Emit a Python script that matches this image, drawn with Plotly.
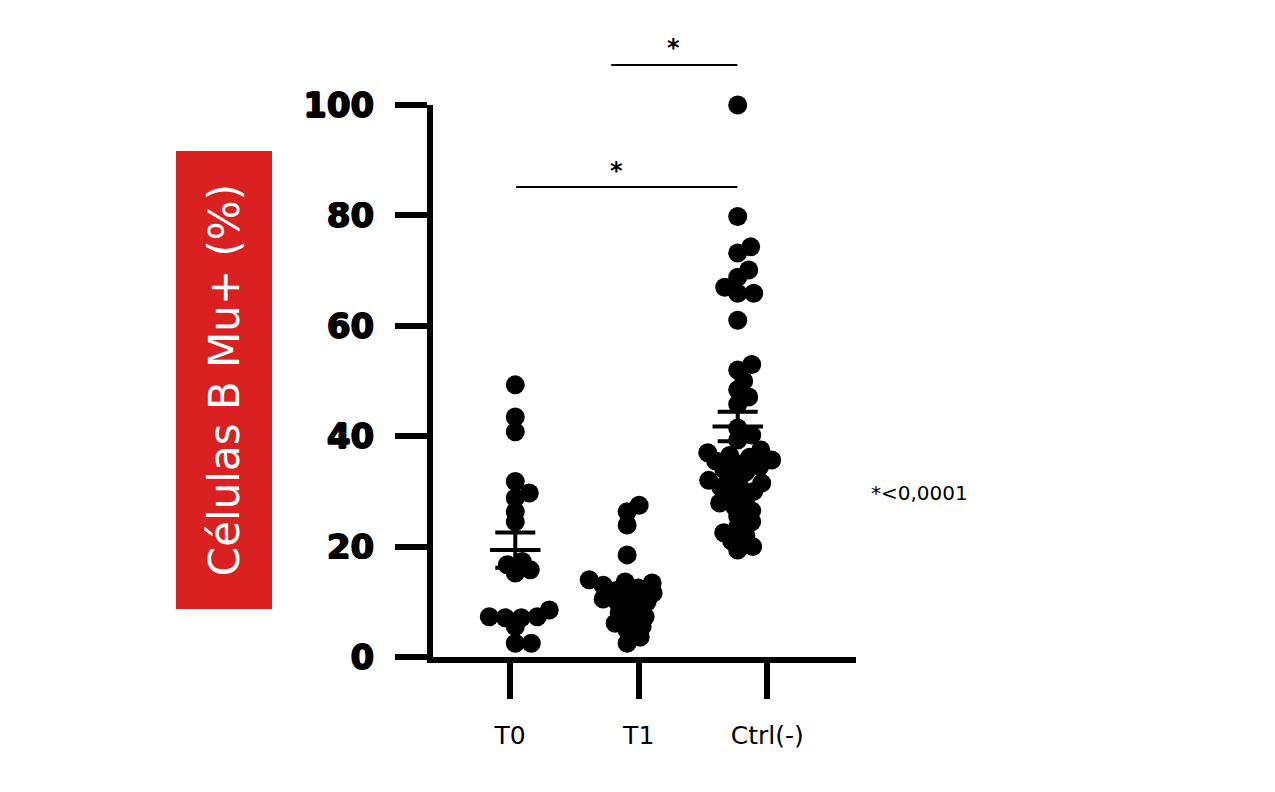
import numpy as np
import plotly.graph_objects as go

# values (% of Mu+ B cells)
groups = ["T0", "T1", "Ctrl(-)"]
t0_vals = [49.3, 43.5, 40.8, 31.8, 29.7, 28.8, 26.3, 24.5, 17.3, 16.7,
           15.8, 15.2, 8.5, 7.3, 7.3, 7.1, 7.1, 5.5, 2.5, 2.5]
t1_vals = [27.5, 26.3, 23.9, 18.5, 14.0, 13.6, 13.4, 13.0, 12.5, 12.1,
           11.6, 11.0, 10.5, 10.0, 9.8, 9.0, 8.0, 7.3, 6.7, 6.1,
           5.5, 4.9, 3.6, 2.5]
ctrl_vals = [100.0, 79.8, 74.3, 73.2, 70.1, 68.8, 67.0, 65.9, 65.9, 61.0,
             53.0, 52.0, 50.0, 48.4, 47.1, 45.8, 41.5, 40.2, 39.3, 37.5,
             37.0, 36.5, 36.2, 35.7, 35.5, 35.0, 34.5, 34.0, 33.5, 32.5,
             32.0, 31.5, 31.0, 30.8, 30.0, 29.5, 28.5, 27.9, 27.2, 26.5,
             25.5, 24.5, 23.6, 22.5, 22.0, 21.0, 20.0, 19.4]
y_ticks = [0, 20, 40, 60, 80, 100]
y_title = "Células B Mu+ (%)"
p_note = "*<0,0001"

# layout constants (page body adds 8px, so margins are shifted)
W, H = 1275, 792
M = dict(l=425, r=427, t=97, b=143)
x_range = [-0.6, 2.69]
y_range = [0, 100]
group_pos = [0.04, 0.91, 1.77]   # where each swarm sits (ticks stay at 0,1,2)
marker_d = 19

plot_w = W - M["l"] - M["r"]
plot_h = H - M["t"] - M["b"]
xscale = plot_w / (x_range[1] - x_range[0])
yscale = plot_h / (y_range[1] - y_range[0])


def swarm(vals, center, gap_x=16.0, gap_y=9.5):
    # beeswarm in pixel space; elliptical spacing lets points stack tightly in y
    order = np.argsort(vals)
    placed = []
    xs = np.zeros(len(vals))
    for i in order:
        py = vals[i] * yscale
        off = 0
        while True:
            cands = [0] if off == 0 else [off, -off]
            hit = None
            for c in cands:
                if all(((c - qx) / gap_x) ** 2 + ((py - qy) / gap_y) ** 2 >= 1
                       for qx, qy in placed):
                    hit = c
                    break
            if hit is not None:
                placed.append((hit, py))
                xs[i] = center + hit / xscale
                break
            off += 1
    return xs


def xpaper(x):
    return (x - x_range[0]) / (x_range[1] - x_range[0])


def ypaper(px_from_top):
    # reference pixel row -> paper y
    return (H - M["b"] - (px_from_top - 8)) / plot_h


fig = go.Figure()

all_vals = [t0_vals, t1_vals, ctrl_vals]
for vals, pos in zip(all_vals, group_pos):
    fig.add_trace(go.Scatter(
        x=swarm(vals, pos), y=vals, mode="markers",
        marker=dict(size=marker_d, color="black"),
        cliponaxis=False, showlegend=False, hoverinfo="y"))

means = [np.mean(v) for v in all_vals]
sems = [np.std(v, ddof=1) / np.sqrt(len(v)) for v in all_vals]
fig.add_trace(go.Scatter(
    x=group_pos, y=means, mode="markers",
    marker=dict(symbol="line-ew", size=36, line=dict(width=4, color="black")),
    error_y=dict(type="data", array=sems, width=20, thickness=4, color="black"),
    cliponaxis=False, showlegend=False))

# significance brackets
brackets = [(0.786, 1.767, 65, 1.27, 48),
            (0.047, 1.767, 187, 0.83, 171)]
for x0, x1, yl, xs_, ys_ in brackets:
    fig.add_shape(type="line", xref="paper", yref="paper",
                  x0=xpaper(x0), x1=xpaper(x1), y0=ypaper(yl), y1=ypaper(yl),
                  line=dict(color="black", width=2))
    fig.add_annotation(x=xs_, y=ypaper(ys_), xref="x", yref="paper", text="<b>*</b>",
                       xanchor="center", yanchor="middle", showarrow=False,
                       font=dict(size=24, color="black", family="DejaVu Sans"))

fig.add_annotation(x=xpaper((919 - 8 - M["l"]) / xscale + x_range[0]), y=ypaper(493),
                   xref="paper", yref="paper", text=p_note, showarrow=False,
                   xanchor="center", yanchor="middle",
                   font=dict(size=20, color="black", family="DejaVu Sans"))

# red y-axis title box
fig.add_annotation(x=(223.5 - 8 - M["l"]) / plot_w, y=ypaper(380),
                   xref="paper", yref="paper", text=y_title, textangle=-90,
                   xanchor="center", yanchor="middle",
                   showarrow=False, width=455, height=93, bgcolor="#d92121",
                   font=dict(size=42, color="white", family="DejaVu Sans"))

fig.update_layout(
    width=W, height=H, margin=M,
    plot_bgcolor="white", paper_bgcolor="white",
    xaxis=dict(range=x_range, tickvals=[0, 1, 2], ticktext=groups,
               showline=True, linewidth=6, linecolor="black",
               ticks="outside", ticklen=36, tickwidth=6, tickcolor="black",
               showgrid=False, zeroline=False, ticklabelstandoff=15,
               tickfont=dict(size=25, color="black", family="DejaVu Sans")),
    yaxis=dict(range=y_range, tickvals=y_ticks,
               showline=True, linewidth=6, linecolor="black",
               ticks="outside", ticklen=32, tickwidth=6, tickcolor="black",
               showgrid=False, zeroline=False, ticklabelstandoff=14,
               tickfont=dict(size=34, color="black", family="DejaVu Sans", weight="bold",
                             shadow="0.8px 0px 0px black, -0.8px 0px 0px black, "
                                    "0px 0.8px 0px black, 0px -0.8px 0px black")),
)

fig.write_html("out.html")
